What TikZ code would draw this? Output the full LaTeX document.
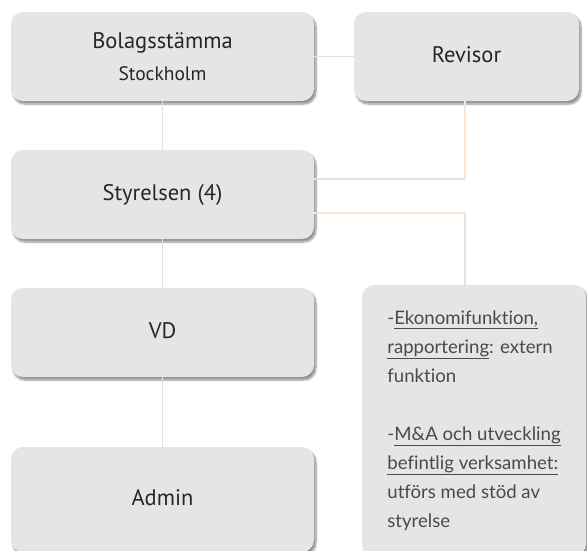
\documentclass[tikz,border=0pt]{standalone}
\usepackage{fontspec}
\setmainfont{PT Sans}
\newfontfamily\notefont[Ligatures={NoCommon}]{Lato}
\usetikzlibrary{shadows.blur}
\definecolor{boxgray}{HTML}{E5E5E5}
\definecolor{linegray}{HTML}{E2E2E2}
\definecolor{peach}{HTML}{FBE3D3}
\definecolor{inkgray}{HTML}{262626}
\definecolor{notegray}{HTML}{4A4A4A}

\begin{document}
\begin{tikzpicture}[x=1pt,y=-1pt,
  box/.style={fill=boxgray,rounded corners=12pt,minimum width=303pt,minimum height=89pt,
    text=inkgray,font=\fontsize{22.5}{26}\selectfont,
    blur shadow={shadow xshift=2pt,shadow yshift=-3pt,shadow blur steps=8,shadow opacity=45}},
  one/.style={text height=14pt,text depth=3pt},
  link/.style={linegray,line width=1.5pt},
  warm/.style={peach,line width=1.5pt}]
\useasboundingbox (0,0) rectangle (587,550);
\clip (0,0) rectangle (587,550);
\node[box,align=center] (stamma) at (162.5,56.5) {Bolagsstämma\\[6pt]{\fontsize{19.5}{22}\selectfont Stockholm}};
\node[box,one,minimum width=225pt] (revisor) at (466.5,56.5) {Revisor};
\node[box,one] (styrelse) at (162.5,194.5) {Styrelsen (4)};
\node[box,one] (vd) at (162.5,332.5) {VD};
\node[box,one,minimum height=105pt] (admin) at (162.5,499.5) {Admin};
\node[box,minimum width=224pt,minimum height=271pt,align=left,text=notegray,
  font=\notefont\fontsize{18.6}{29}\selectfont] (stod) at (474,420.5)
  {-\underline{Ekonomifunktion,}\\ \underline{rapportering}: extern\\ funktion\\[29pt]
   -\underline{M\&A och utveckling}\\ \underline{befintlig verksamhet:}\\ utförs med stöd av\\ styrelse};
\coordinate (knee1) at (465,179);
\coordinate (knee2) at (465,213);
\draw[link] (stamma) -- (revisor);
\draw[link] (stamma) -- (styrelse);
\draw[warm] (knee1 |- revisor.south) -- (knee1);
\draw[link] (knee1) -- (knee1 -| styrelse.east);
\draw[warm] (knee2 -| styrelse.east) -- (knee2);
\draw[link] (knee2) -- (knee2 |- stod.north);
\draw[link] (styrelse) -- (vd);
\draw[link] (vd) -- (admin);
\end{tikzpicture}
\end{document}
